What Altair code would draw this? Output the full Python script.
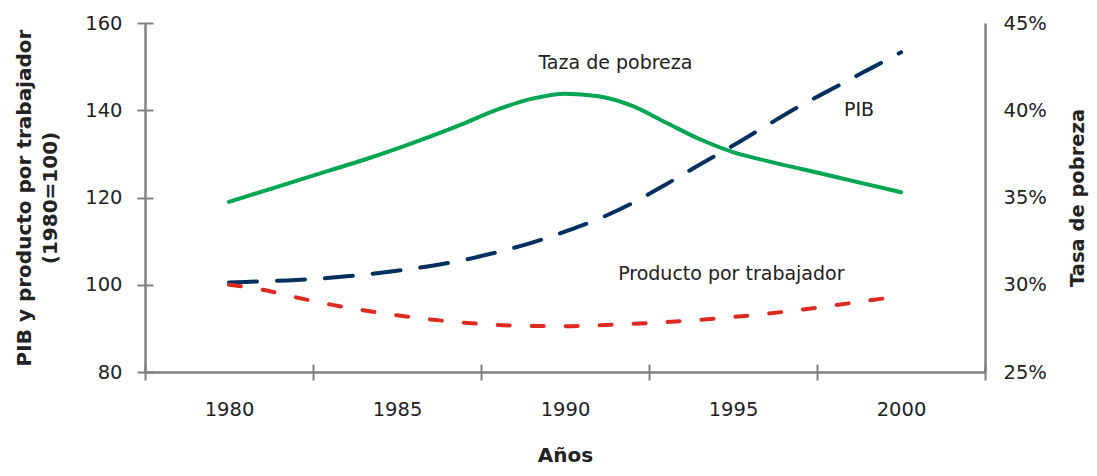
import altair as alt
import pandas as pd

# ---- data ----
years = list(range(1980, 2001))
pib = [100.5, 100.8, 101.1, 101.6, 102.3, 103.2, 104.3, 105.7, 107.5, 109.6, 112.2,
       115.1, 118.7, 123.0, 127.5, 131.9, 136.5, 141.0, 145.1, 149.2, 153.3]
producto = [100.0, 98.85, 97.1, 95.5, 94.15, 93.0, 92.05, 91.3, 90.8, 90.55, 90.5,
            90.7, 91.05, 91.45, 91.95, 92.6, 93.35, 94.25, 95.25, 96.35, 97.4]
pobreza_pct = [34.75, 35.35, 35.95, 36.55, 37.15, 37.8, 38.5, 39.25, 40.05, 40.65, 40.95,
               40.8, 40.25, 39.3, 38.35, 37.6, 37.1, 36.65, 36.2, 35.75, 35.3]

ann_text = ["Taza de pobreza", "PIB", "Producto por trabajador"]
ann_year = [1991.5, 1998.75, 1994.95]
ann_value = [149.45, 138.6, 101.1]

x_label_values = [1980, 1985, 1990, 1995, 2000]
x_tick_values = [1977.5, 1982.5, 1987.5, 1992.5, 1997.5, 2002.5]
left_values = [80, 100, 120, 140, 160]
right_values = [0.25, 0.30, 0.35, 0.40, 0.45]

df = pd.DataFrame({
    "year": years,
    "pib": pib,
    "producto": producto,
    "pobreza": [v / 100 for v in pobreza_pct],
})
ann = pd.DataFrame({"text": ann_text, "year": ann_year, "value": ann_value})

GREEN = "#00A651"
NAVY = "#00305F"
RED = "#DE2A1F"
AX = "#808080"
TXT = "#222222"
FONT = "DejaVu Sans"

xscale = alt.Scale(domain=[1977.5, 2002.5], nice=False, zero=False)
lscale = alt.Scale(domain=[80, 160], nice=False, zero=False)
rscale = alt.Scale(domain=[0.25, 0.45], nice=False, zero=False)

base = alt.Chart(df)

pib_line = base.mark_line(
    color=NAVY, strokeWidth=4, strokeDash=[28, 20], strokeCap="round", interpolate="monotone"
).encode(
    x=alt.X("year:Q", scale=xscale, axis=alt.Axis(
        orient="bottom", values=x_label_values, format="d", ticks=False,
        domain=True, domainColor=AX, domainWidth=2.5, labelPadding=28,
        labelFontSize=19.5, labelColor=TXT, labelFont=FONT,
        title="Años", titleFontSize=20, titleFont=FONT, titleFontWeight="bold",
        titleColor=TXT, titlePadding=27, grid=False)),
    y=alt.Y("pib:Q", scale=lscale, axis=alt.Axis(
        orient="left", values=left_values, ticks=False, domain=True,
        domainColor=AX, domainWidth=2.5, labelPadding=23,
        labelFontSize=19.5, labelColor=TXT, labelFont=FONT,
        title=["PIB y producto por trabajador", "(1980=100)"],
        titleFontSize=20, titleFont=FONT, titleFontWeight="bold", titleColor=TXT,
        titleLineHeight=26, titlePadding=24, grid=False)),
)

prod_line = base.mark_line(
    color=RED, strokeWidth=4, strokeDash=[12, 22], strokeCap="round", interpolate="monotone"
).encode(
    x=alt.X("year:Q", scale=xscale, axis=alt.Axis(
        orient="bottom", values=x_tick_values, labels=False, domain=False,
        ticks=True, tickSize=16, offset=-8, tickColor=AX, tickWidth=2,
        title=None, grid=False)),
    y=alt.Y("producto:Q", scale=lscale, axis=alt.Axis(
        orient="left", values=left_values, labels=False, domain=False,
        ticks=True, tickSize=16, offset=-8, tickColor=AX, tickWidth=2,
        title=None, grid=False)),
)

labels = alt.Chart(ann).mark_text(
    font=FONT, fontSize=19, color=TXT, align="center", baseline="alphabetic"
).encode(
    x=alt.X("year:Q", scale=xscale, axis=None),
    y=alt.Y("value:Q", scale=lscale, axis=None),
    text="text:N",
)

left_layer = alt.layer(pib_line, prod_line, labels).resolve_axis(x="independent", y="independent")

pov_line = base.mark_line(
    color=GREEN, strokeWidth=4, strokeCap="round", interpolate="monotone"
).encode(
    x=alt.X("year:Q", scale=xscale, axis=None),
    y=alt.Y("pobreza:Q", scale=rscale, axis=alt.Axis(
        orient="right", values=right_values, format=".0%", ticks=False,
        domain=True, domainColor=AX, domainWidth=2.5, labelPadding=18,
        labelFontSize=19.5, labelColor=TXT, labelFont=FONT,
        title="Tasa de pobreza", titleAngle=270, titleBaseline="top",
        titleFontSize=19.5, titleFont=FONT, titleFontWeight="bold", titleColor=TXT,
        titlePadding=22, grid=False)),
)

chart = alt.layer(left_layer, pov_line).resolve_scale(
    y="independent"
).resolve_axis(
    x="independent", y="independent"
).properties(
    width=840, height=349,
    padding={"left": 137, "right": 104, "top": 15, "bottom": 96},
    autosize=alt.AutoSizeParams(type="none"),
).configure_view(stroke=None).configure_axis(grid=False)

chart.save("out.html", embed_options={"renderer": "svg", "actions": False})
